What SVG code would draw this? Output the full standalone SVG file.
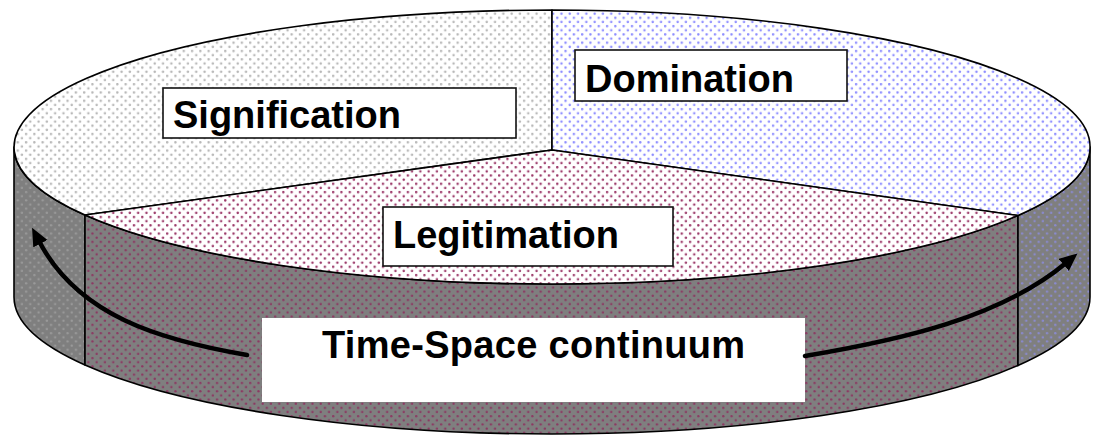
<svg xmlns="http://www.w3.org/2000/svg" width="1096" height="437" viewBox="0 0 1096 437">
  <style>
    .edge { stroke: #000; stroke-width: 1.6; stroke-linejoin: round; }
    .box { fill: #fff; stroke: #111; stroke-width: 1.6; }
    .label { font-family: "Liberation Sans", Arial, sans-serif; font-weight: bold; font-size: 38px; fill: #000; }
    .arrow { fill: none; stroke: #000; stroke-width: 4.5; stroke-linecap: round; }
  </style>
  <defs>
    <!-- staggered dot textures -->
    <pattern id="dotsGrey" width="8.3" height="8.3" patternUnits="userSpaceOnUse">
      <rect width="8.3" height="8.3" fill="#fff"/>
      <circle cx="1.2" cy="1.2" r="1.25" fill="#b8b8b8"/>
      <circle cx="5.35" cy="5.35" r="1.25" fill="#b8b8b8"/>
    </pattern>
    <pattern id="dotsBlue" width="8.3" height="8.3" patternUnits="userSpaceOnUse">
      <rect width="8.3" height="8.3" fill="#fff"/>
      <circle cx="1.2" cy="1.2" r="1.25" fill="#8e8eff"/>
      <circle cx="5.35" cy="5.35" r="1.25" fill="#8e8eff"/>
    </pattern>
    <pattern id="dotsRose" width="8.3" height="8.3" patternUnits="userSpaceOnUse">
      <rect width="8.3" height="8.3" fill="#fff"/>
      <circle cx="1.2" cy="1.2" r="1.25" fill="#9c3a6a"/>
      <circle cx="5.35" cy="5.35" r="1.25" fill="#9c3a6a"/>
    </pattern>
    <pattern id="wallGrey" width="8.3" height="8.3" patternUnits="userSpaceOnUse">
      <rect width="8.3" height="8.3" fill="#7f7f7f"/>
      <circle cx="1.2" cy="1.2" r="1.2" fill="#9a9a9a"/>
      <circle cx="5.35" cy="5.35" r="1.2" fill="#9a9a9a"/>
    </pattern>
    <pattern id="wallRose" width="8.3" height="8.3" patternUnits="userSpaceOnUse">
      <rect width="8.3" height="8.3" fill="#7f7f7f"/>
      <circle cx="1.2" cy="1.2" r="1.2" fill="#8c3862"/>
      <circle cx="5.35" cy="5.35" r="1.2" fill="#8c3862"/>
    </pattern>
    <pattern id="wallBlue" width="8.3" height="8.3" patternUnits="userSpaceOnUse">
      <rect width="8.3" height="8.3" fill="#7f7f7f"/>
      <circle cx="1.2" cy="1.2" r="1.2" fill="#8a8ad0"/>
      <circle cx="5.35" cy="5.35" r="1.2" fill="#8a8ad0"/>
    </pattern>
    <marker id="head" markerUnits="userSpaceOnUse" markerWidth="22" markerHeight="18" refX="3" refY="8" orient="auto">
      <path d="M0,0 L18,8 L0,16 Z" fill="#000"/>
    </marker>
  </defs>

  <!-- cylinder wall: top rim ellipse centre (552,147), base ellipse centre (552,297), radii 538 x 137 -->
  <g id="cylinder-wall">
    <path class="edge" fill="url(#wallGrey)" d="M14,147 L14,297 A538,137 0 0 0 85,365 L85,215 A538,137 0 0 1 14,147 Z"/>
    <path class="edge" fill="url(#wallRose)" d="M85,215 L85,365 A538,137 0 0 0 1018,365.5 L1018,215.5 A538,137 0 0 1 85,215 Z"/>
    <path class="edge" fill="url(#wallBlue)" d="M1018,215.5 L1018,365.5 A538,137 0 0 0 1090,297 L1090,147 A538,137 0 0 1 1018,215.5 Z"/>
  </g>

  <g id="signification">
    <path class="edge" fill="url(#dotsGrey)" d="M552,150 L85,215 A538,137 0 0 1 552,10 Z"/>
    <rect class="box" x="163" y="88" width="353" height="50"/>
    <text class="label" x="173" y="127.5">Signification</text>
  </g>

  <g id="domination">
    <path class="edge" fill="url(#dotsBlue)" d="M552,150 L552,10 A538,137 0 0 1 1018,215.5 Z"/>
    <rect class="box" x="575" y="50" width="272" height="51"/>
    <text class="label" x="585" y="91.5">Domination</text>
  </g>

  <g id="legitimation">
    <path class="edge" fill="url(#dotsRose)" d="M552,150 L1018,215.5 A538,137 0 0 1 85,215 Z"/>
    <rect class="box" x="383" y="207" width="290" height="59"/>
    <text class="label" x="393" y="247.5">Legitimation</text>
  </g>

  <g id="time-space">
    <rect x="262" y="318" width="543" height="84" fill="#fff"/>
    <text class="label" x="322" y="357.5" letter-spacing="0.3">Time-Space continuum</text>
  </g>

  <g id="connectors">
    <path class="arrow" marker-end="url(#head)" d="M247,355 C160,340 78,316 39,241"/>
    <path class="arrow" marker-end="url(#head)" d="M805,356 C900,340 1000,318 1066,263"/>
  </g>
</svg>
